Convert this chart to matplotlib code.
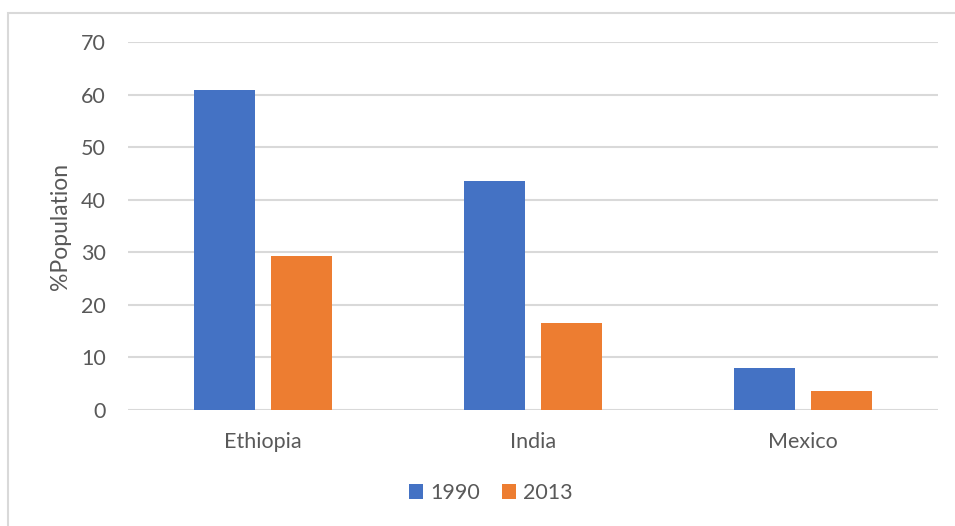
import matplotlib.pyplot as plt
from matplotlib.patches import Rectangle
import numpy as np

countries = ['Ethiopia', 'India', 'Mexico']
years = ['1990', '2013']
pct_1990 = [60.9, 43.6, 8.0]
pct_2013 = [29.3, 16.5, 3.6]
colors = ['#4472C4', '#ED7D31']

plt.rcParams['font.family'] = ['Lato', 'DejaVu Sans']
grey = '#595959'

fig = plt.figure(figsize=(9.55, 5.26), dpi=100)
ax = fig.add_axes([128 / 955, 1 - 410 / 526, 810 / 955, 368 / 526])

x = np.arange(len(countries))
w = 0.226
off = 0.144
ax.bar(x - off, pct_1990, w, color=colors[0], label=years[0], zorder=3)
ax.bar(x + off, pct_2013, w, color=colors[1], label=years[1], zorder=3)

ax.set_xlim(-0.5, 2.5)
ax.set_ylim(0, 70)
ax.set_yticks(range(0, 71, 10))
ax.yaxis.grid(True, color='#d9d9d9', linewidth=1.5, zorder=0)
ax.set_xticks(x)
ax.set_xticklabels(countries)
ax.tick_params(length=0, colors=grey, labelsize=15.5)
ax.tick_params(axis='x', pad=16)
ax.tick_params(axis='y', pad=16)
for s in ax.spines.values():
    s.set_visible(False)

ax.set_ylabel('%Population', color=grey, fontsize=16.5, labelpad=7)

fig.legend(loc='center', bbox_to_anchor=(491 / 955, 1 - 493 / 526), ncol=2,
           frameon=False, fontsize=15.5, labelcolor=grey, handlelength=0.65,
           handleheight=0.65, handletextpad=0.35, columnspacing=1.0)

# outer chart border
fig.add_artist(Rectangle((8 / 955, -0.1), 1.1, 1 - 13 / 526 + 0.1,
                         transform=fig.transFigure, fill=False,
                         edgecolor='#d9d9d9', linewidth=1.5))

fig.savefig('out.png', dpi=100)
